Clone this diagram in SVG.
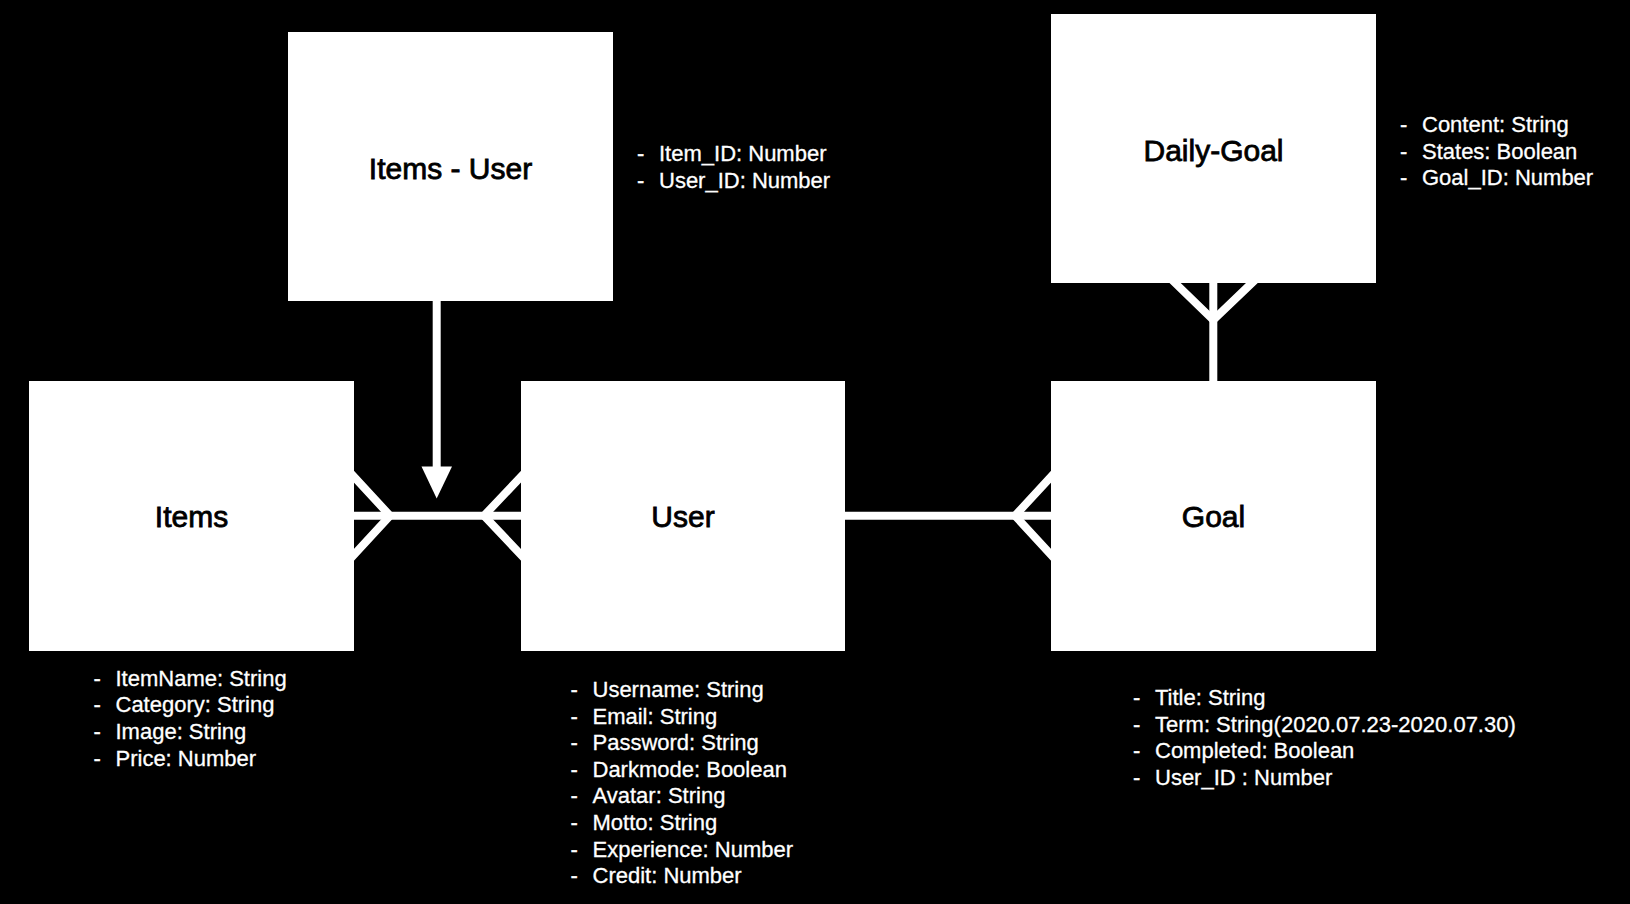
<svg xmlns="http://www.w3.org/2000/svg" width="1630" height="904" viewBox="0 0 1630 904">
<style>
.box{fill:#fff;stroke:none}
.title{font-family:"Liberation Sans",Arial,Helvetica,sans-serif;font-size:30px;fill:#000;stroke:#000;stroke-width:0.8px;text-anchor:middle}
.attr{font-family:"Liberation Sans",Arial,Helvetica,sans-serif;font-size:22px;fill:#fff;stroke:#fff;stroke-width:0.3px}
.conn{stroke:#fff;stroke-width:8;fill:none}
</style>
<rect x="0" y="0" width="1630" height="904" fill="#000"/>
<g id="connectors">
  <line class="conn" x1="436.7" y1="301" x2="436.7" y2="470"/>
  <polygon points="421.5,466.5 452,466.5 436.7,498.5" fill="#fff"/>
  <line class="conn" x1="350" y1="515.7" x2="525" y2="515.7"/>
  <polyline class="conn" points="351,473.5 390,515.7 351,558"/>
  <polyline class="conn" points="524,473.5 484,515.7 524,558"/>
  <line class="conn" x1="841" y1="515.7" x2="1055" y2="515.7"/>
  <polyline class="conn" points="1054,473.5 1015,515.7 1054,558"/>
  <line class="conn" x1="1213.3" y1="279" x2="1213.3" y2="385"/>
  <polyline class="conn" points="1172,280 1213.3,320 1255,280"/>
</g>
<g id="node-items-user">
  <rect class="box" x="288" y="32" width="325" height="269"/>
  <text class="title" x="450.5" y="179">Items - User</text>
  <text class="attr" y="161.3"><tspan x="637">-</tspan><tspan x="659">Item_ID: Number</tspan></text>
  <text class="attr" y="188.3"><tspan x="637">-</tspan><tspan x="659">User_ID: Number</tspan></text>
</g>
<g id="node-daily-goal">
  <rect class="box" x="1051" y="14" width="325" height="269"/>
  <text class="title" x="1213.5" y="161">Daily-Goal</text>
  <text class="attr" y="131.5"><tspan x="1400">-</tspan><tspan x="1422">Content: String</tspan></text>
  <text class="attr" y="158.5"><tspan x="1400">-</tspan><tspan x="1422">States: Boolean</tspan></text>
  <text class="attr" y="185"><tspan x="1400">-</tspan><tspan x="1422">Goal_ID: Number</tspan></text>
</g>
<g id="node-items">
  <rect class="box" x="29" y="381" width="325" height="270"/>
  <text class="title" x="191.5" y="526.7">Items</text>
  <text class="attr" y="685.5"><tspan x="93.5">-</tspan><tspan x="115.5">ItemName: String</tspan></text>
  <text class="attr" y="712.2"><tspan x="93.5">-</tspan><tspan x="115.5">Category: String</tspan></text>
  <text class="attr" y="738.9"><tspan x="93.5">-</tspan><tspan x="115.5">Image: String</tspan></text>
  <text class="attr" y="765.6"><tspan x="93.5">-</tspan><tspan x="115.5">Price: Number</tspan></text>
</g>
<g id="node-user">
  <rect class="box" x="521" y="381" width="324" height="270"/>
  <text class="title" x="683" y="526.7">User</text>
  <text class="attr" y="697"><tspan x="570.5">-</tspan><tspan x="592.5">Username: String</tspan></text>
  <text class="attr" y="723.6"><tspan x="570.5">-</tspan><tspan x="592.5">Email: String</tspan></text>
  <text class="attr" y="750.2"><tspan x="570.5">-</tspan><tspan x="592.5">Password: String</tspan></text>
  <text class="attr" y="776.8"><tspan x="570.5">-</tspan><tspan x="592.5">Darkmode: Boolean</tspan></text>
  <text class="attr" y="803.4"><tspan x="570.5">-</tspan><tspan x="592.5">Avatar: String</tspan></text>
  <text class="attr" y="830"><tspan x="570.5">-</tspan><tspan x="592.5">Motto: String</tspan></text>
  <text class="attr" y="856.6"><tspan x="570.5">-</tspan><tspan x="592.5">Experience: Number</tspan></text>
  <text class="attr" y="883.2"><tspan x="570.5">-</tspan><tspan x="592.5">Credit: Number</tspan></text>
</g>
<g id="node-goal">
  <rect class="box" x="1051" y="381" width="325" height="270"/>
  <text class="title" x="1213.5" y="526.7">Goal</text>
  <text class="attr" y="705.2"><tspan x="1133">-</tspan><tspan x="1155">Title: String</tspan></text>
  <text class="attr" y="731.8"><tspan x="1133">-</tspan><tspan x="1155">Term: String(2020.07.23-2020.07.30)</tspan></text>
  <text class="attr" y="758.4"><tspan x="1133">-</tspan><tspan x="1155">Completed: Boolean</tspan></text>
  <text class="attr" y="785"><tspan x="1133">-</tspan><tspan x="1155">User_ID : Number</tspan></text>
</g>
</svg>
